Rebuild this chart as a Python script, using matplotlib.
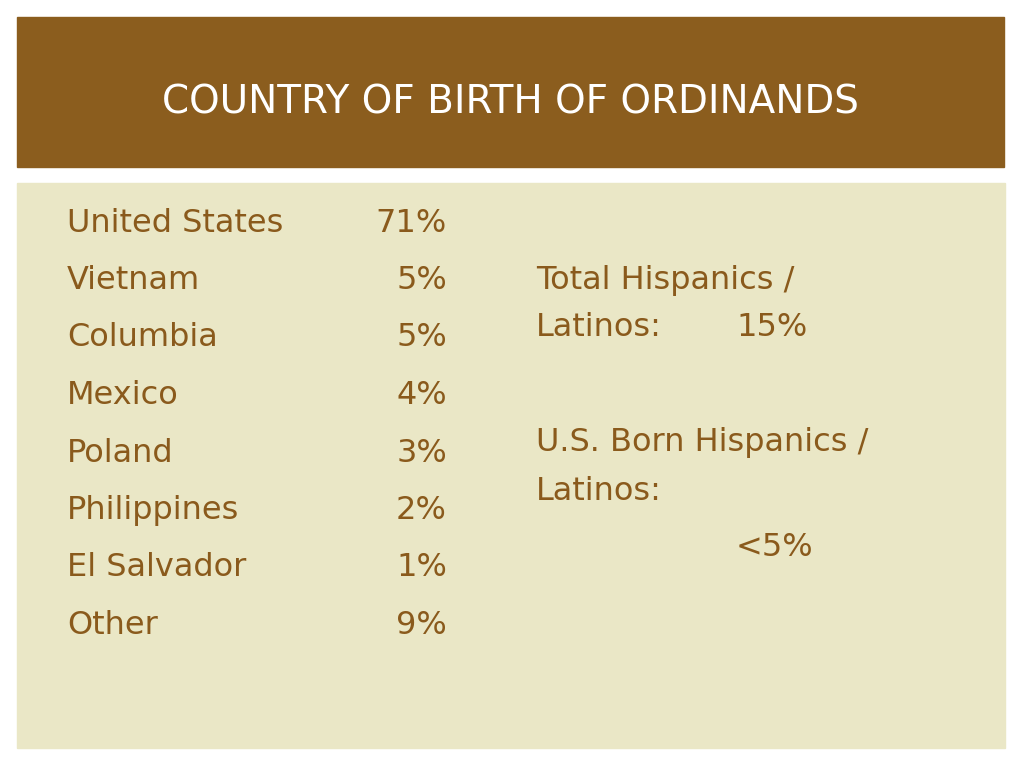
import matplotlib
matplotlib.use("Agg")
import matplotlib.pyplot as plt
from matplotlib.patches import Rectangle

title = "COUNTRY OF BIRTH OF ORDINANDS"
countries = ["United States", "Vietnam", "Columbia", "Mexico", "Poland", "Philippines", "El Salvador", "Other"]
shares = ["71%", "5%", "5%", "4%", "3%", "2%", "1%", "9%"]

W, H = 1024, 768
fig = plt.figure(figsize=(W/100, H/100), dpi=100)
ax = fig.add_axes([0, 0, 1, 1])
ax.set_xlim(0, W); ax.set_ylim(H, 0); ax.axis("off")

brown = "#8B5D1E"
txt = "#8A5A1C"
fam = "DejaVu Sans"
ax.add_patch(Rectangle((17, 17), 987, 150, color=brown))
ax.add_patch(Rectangle((17, 183), 988, 565, color="#EAE7C6"))
t = ax.text(510, 102, title, color="white", fontsize=28, ha="center", va="center", family=fam)

fs = 23
y0, dy = 223, 57.5
for i, (c, s) in enumerate(zip(countries, shares)):
    y = y0 + i * dy
    ax.text(67, y, c, color=txt, fontsize=fs, ha="left", va="center", family=fam)
    ax.text(447, y, s, color=txt, fontsize=fs, ha="right", va="center", family=fam)

ax.text(536, 281, "Total Hispanics /", color=txt, fontsize=fs, va="center", family=fam)
ax.text(536, 328, "Latinos:", color=txt, fontsize=fs, va="center", family=fam)
ax.text(736, 328, "15%", color=txt, fontsize=fs, va="center", family=fam)
ax.text(536, 443, "U.S. Born Hispanics /", color=txt, fontsize=fs, va="center", family=fam)
ax.text(536, 491, "Latinos:", color=txt, fontsize=fs, va="center", family=fam)
ax.text(736, 548, "<5%", color=txt, fontsize=fs, va="center", family=fam)

fig.savefig("out.png", dpi=100)
